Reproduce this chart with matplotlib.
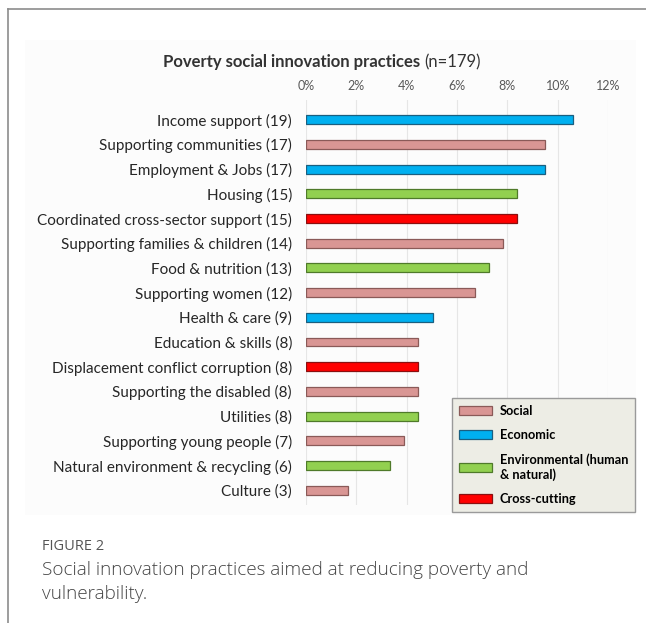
import numpy as np
import matplotlib
matplotlib.use('Agg')
import matplotlib.pyplot as plt
from matplotlib.patches import Patch, Rectangle
from matplotlib.lines import Line2D

# practices, number of cases and the group each one belongs to
practices = ['Income support', 'Supporting communities', 'Employment & Jobs',
             'Housing', 'Coordinated cross-sector support',
             'Supporting families & children', 'Food & nutrition',
             'Supporting women', 'Health & care', 'Education & skills',
             'Displacement conflict corruption', 'Supporting the disabled',
             'Utilities', 'Supporting young people',
             'Natural environment & recycling', 'Culture']
counts = [19, 17, 17, 15, 15, 14, 13, 12, 9, 8, 8, 8, 8, 7, 6, 3]
groups = ['Economic', 'Social', 'Economic', 'Environmental', 'Cross-cutting',
          'Social', 'Environmental', 'Social', 'Economic', 'Social',
          'Cross-cutting', 'Social', 'Environmental', 'Social',
          'Environmental', 'Social']
total = 179
xticks = [0, 2, 4, 6, 8, 10, 12]

colors = {'Social': '#d99694', 'Economic': '#00b0f0',
          'Environmental': '#92d050', 'Cross-cutting': '#ff0000'}
edges = {'Social': '#8a5a58', 'Economic': '#1a5f80',
         'Environmental': '#4f7a2a', 'Cross-cutting': '#8a1010'}
legend_names = {'Social': 'Social', 'Economic': 'Economic',
                'Environmental': 'Environmental (human\n& natural)',
                'Cross-cutting': 'Cross-cutting'}

W, H = 646, 623
fig = plt.figure(figsize=(W / 100, H / 100), dpi=100)
fig.patch.set_facecolor('white')

# outer frame: left and top rules
fig.add_artist(Line2D([8 / W, 8 / W], [0, 1 - 9 / H], color='#8c8c8c', lw=1.2))
fig.add_artist(Line2D([8 / W, 1], [1 - 9 / H, 1 - 9 / H], color='#8c8c8c', lw=1.2))

# faint panel behind the chart
fig.add_artist(Rectangle((25 / W, 1 - 515 / H), 611 / W, 475 / H,
                         transform=fig.transFigure, facecolor='#fcfcfc',
                         edgecolor='none', zorder=0))

ax = fig.add_axes([306 / W, 1 - 505 / H, 302 / W, 405 / H])
ax.set_facecolor('none')

pct = [c / total * 100 for c in counts]
y = np.arange(len(practices))
ax.barh(y, pct, height=0.36,
        color=[colors[g] for g in groups],
        edgecolor=[edges[g] for g in groups], linewidth=0.9, zorder=3)

ax.set_xlim(0, 12)
ax.set_ylim(15.6, -0.8)
ax.set_xticks(xticks)
ax.set_xticklabels(['{}%'.format(t) for t in xticks])
ax.xaxis.tick_top()
ax.tick_params(axis='x', length=0, pad=6, labelsize=9, labelcolor='#595959')
for lab in ax.get_xticklabels():
    lab.set_family('Lato')

ax.set_yticks(y)
ax.set_yticklabels(['{} ({})'.format(p, c) for p, c in zip(practices, counts)],
                   family='Lato', fontsize=11, color='#262626')
ax.tick_params(axis='y', length=0, pad=10)

ax.grid(axis='x', color='#e6e6e6', lw=0.8, zorder=0)
for s in ax.spines.values():
    s.set_visible(False)

# title: bold lead followed by the plain sample size
t1 = fig.text(163 / W, 1 - 62 / H, 'Poverty social innovation practices ',
              family='Lato', fontweight='bold', fontsize=12, color='#333333',
              va='center')
fig.canvas.draw()
w1 = t1.get_window_extent(fig.canvas.get_renderer()).width
fig.text((163 + w1) / W, 1 - 62 / H, '(n=179)', family='Lato', fontsize=12,
         color='#333333', va='center')

handles = [Patch(facecolor=colors[k], edgecolor=edges[k], lw=0.9,
                 label=legend_names[k]) for k in colors]
leg = fig.legend(handles=handles, loc='upper left',
                 bbox_to_anchor=(452 / W, 1 - 398 / H),
                 prop={'family': 'Lato', 'weight': 'bold', 'size': 9.2},
                 frameon=True, fancybox=False, facecolor='#edede5',
                 edgecolor='#9a9a9a', framealpha=1, handlelength=2.6,
                 handleheight=0.75, handletextpad=0.6, labelspacing=0.95,
                 borderpad=0.55, borderaxespad=0)
leg.get_frame().set_linewidth(1.0)

fig.text(42 / W, 1 - 547 / H, 'FIGURE 2', family='Open Sans', fontsize=10.5,
         color='#555555', va='center')
fig.text(42 / W, 1 - 582 / H,
         'Social innovation practices aimed at reducing poverty and\nvulnerability.',
         family='Open Sans', fontweight='light', fontsize=13.6,
         color='#444444', va='center', linespacing=1.4)

plt.savefig('out.png', dpi=100)
